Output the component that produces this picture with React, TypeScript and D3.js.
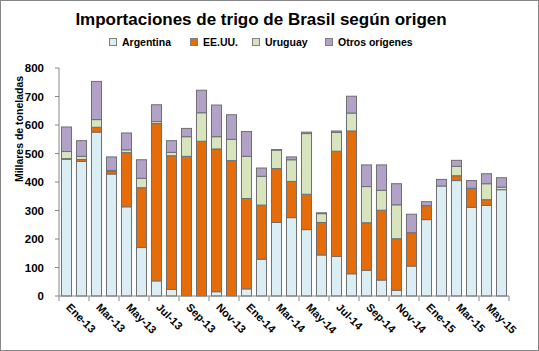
import React, { useEffect, useRef } from 'react';
import * as d3 from 'd3';

const months = [
  'Ene-13', 'Feb-13', 'Mar-13', 'Abr-13', 'May-13', 'Jun-13', 'Jul-13', 'Ago-13', 'Sep-13', 'Oct-13', 'Nov-13', 'Dic-13',
  'Ene-14', 'Feb-14', 'Mar-14', 'Abr-14', 'May-14', 'Jun-14', 'Jul-14', 'Ago-14', 'Sep-14', 'Oct-14', 'Nov-14', 'Dic-14',
  'Ene-15', 'Feb-15', 'Mar-15', 'Abr-15', 'May-15', 'Jun-15',
];

const argentina = [480, 472, 575, 428, 313, 170, 53, 23, 0, 0, 15, 0, 25, 129, 258, 275, 233, 144, 139, 78, 90, 56, 20, 105, 268, 386, 405, 311, 318, 373];
const eeuu = [2, 7, 17, 9, 190, 210, 552, 469, 490, 543, 501, 475, 317, 190, 189, 127, 124, 114, 369, 501, 167, 245, 181, 117, 49, 0, 17, 67, 20, 0];
const uruguay = [25, 11, 27, 4, 10, 33, 7, 12, 69, 100, 43, 75, 148, 101, 65, 76, 213, 31, 66, 63, 127, 70, 119, 0, 0, 0, 33, 0, 56, 9];
const otros = [86, 55, 134, 47, 59, 65, 59, 41, 29, 79, 111, 86, 87, 29, 2, 10, 5, 3, 5, 59, 76, 89, 74, 65, 14, 23, 21, 27, 35, 33];

const seriesNames = ['Argentina', 'EE.UU.', 'Uruguay', 'Otros orígenes'];
const seriesColors = ['#DBEEF4', '#E46C0A', '#D7E4BD', '#B3A2C7'];
const yTicks = [0, 100, 200, 300, 400, 500, 600, 700, 800];

const W = 539;
const H = 351;
const FONT = '"Liberation Sans", Arial, sans-serif';

const App = () => {
  const svgRef = useRef<SVGSVGElement>(null);

  useEffect(() => {
    const svg = d3.select(svgRef.current);
    svg.selectAll('*').remove();

    const rows = months.map((m, i) => ({
      month: m,
      a: argentina[i],
      u: eeuu[i],
      g: uruguay[i],
      o: otros[i],
    }));
    const keys = ['a', 'u', 'g', 'o'];
    const stacked = d3.stack<any>().keys(keys)(rows);

    // plot area
    const left = 59;
    const right = 509;
    const top = 68;
    const bottom = 296;

    const x = d3.scaleBand().domain(months).range([left, right]).paddingInner(0.33).paddingOuter(0.165);
    const y = d3.scaleLinear().domain([0, 800]).range([bottom, top]);

    // outer border
    svg.append('rect')
      .attr('x', 0.5).attr('y', 0.5)
      .attr('width', W - 1).attr('height', H - 1)
      .attr('fill', '#fff').attr('stroke', '#868686');

    // title
    svg.append('text')
      .attr('x', 261).attr('y', 25)
      .attr('text-anchor', 'middle')
      .attr('font-family', FONT).attr('font-weight', 'bold').attr('font-size', 17)
      .text('Importaciones de trigo de Brasil según origen');

    // legend
    const legendX = [109, 190, 252, 325];
    seriesNames.forEach((name, i) => {
      const g = svg.append('g').attr('transform', `translate(${legendX[i]},46)`);
      g.append('rect')
        .attr('x', 0.5).attr('y', -7.5).attr('width', 7).attr('height', 7)
        .attr('fill', seriesColors[i]).attr('stroke', '#7f7f7f');
      g.append('text')
        .attr('x', 13).attr('y', 0)
        .attr('font-family', FONT).attr('font-weight', 'bold').attr('font-size', 10.5)
        .text(name);
    });

    // bars
    svg.append('g')
      .selectAll('g')
      .data(stacked)
      .join('g')
      .attr('fill', (d, i) => seriesColors[i])
      .selectAll('rect')
      .data(d => d)
      .join('rect')
      .attr('x', d => x(d.data.month)!)
      .attr('width', x.bandwidth())
      .attr('y', d => y(d[1]))
      .attr('height', d => Math.max(0, y(d[0]) - y(d[1])))
      .attr('stroke', '#6f6f6f')
      .attr('stroke-width', 1);

    // y axis
    const yAxis = svg.append('g');
    yAxis.append('line')
      .attr('x1', left).attr('x2', left).attr('y1', top).attr('y2', bottom)
      .attr('stroke', '#868686');
    yTicks.forEach(t => {
      yAxis.append('line')
        .attr('x1', left - 4).attr('x2', left).attr('y1', y(t)).attr('y2', y(t))
        .attr('stroke', '#868686');
      yAxis.append('text')
        .attr('x', 44).attr('y', y(t) + 4)
        .attr('text-anchor', 'end')
        .attr('font-family', FONT).attr('font-weight', 'bold').attr('font-size', 11.5)
        .text(t);
    });

    svg.append('text')
      .attr('transform', `translate(23,129) rotate(-90)`)
      .attr('text-anchor', 'middle')
      .attr('font-family', FONT).attr('font-weight', 'bold').attr('font-size', 10.5)
      .text('Millares de toneladas');

    // x axis
    const xAxis = svg.append('g');
    xAxis.append('line')
      .attr('x1', left).attr('x2', right).attr('y1', bottom).attr('y2', bottom)
      .attr('stroke', '#868686');
    months.forEach((m, i) => {
      const step = x.step();
      if (i % 2 === 0) {
        const bx = left + i * step;
        xAxis.append('line')
          .attr('x1', bx).attr('x2', bx).attr('y1', bottom).attr('y2', bottom + 5)
          .attr('stroke', '#868686');
        const cx = x(m)! + x.bandwidth() / 2;
        xAxis.append('text')
          .attr('transform', `translate(${cx - 1},${bottom + 12}) rotate(45)`)
          .attr('text-anchor', 'start')
          .attr('font-family', FONT).attr('font-weight', 'bold').attr('font-size', 11)
          .text(m);
      }
    });
    xAxis.append('line')
      .attr('x1', right).attr('x2', right).attr('y1', bottom).attr('y2', bottom + 5)
      .attr('stroke', '#868686');
  }, []);

  return <svg ref={svgRef} width={W} height={H} style={{ position: 'absolute', left: 0, top: 0 }}></svg>;
};

export default App;
